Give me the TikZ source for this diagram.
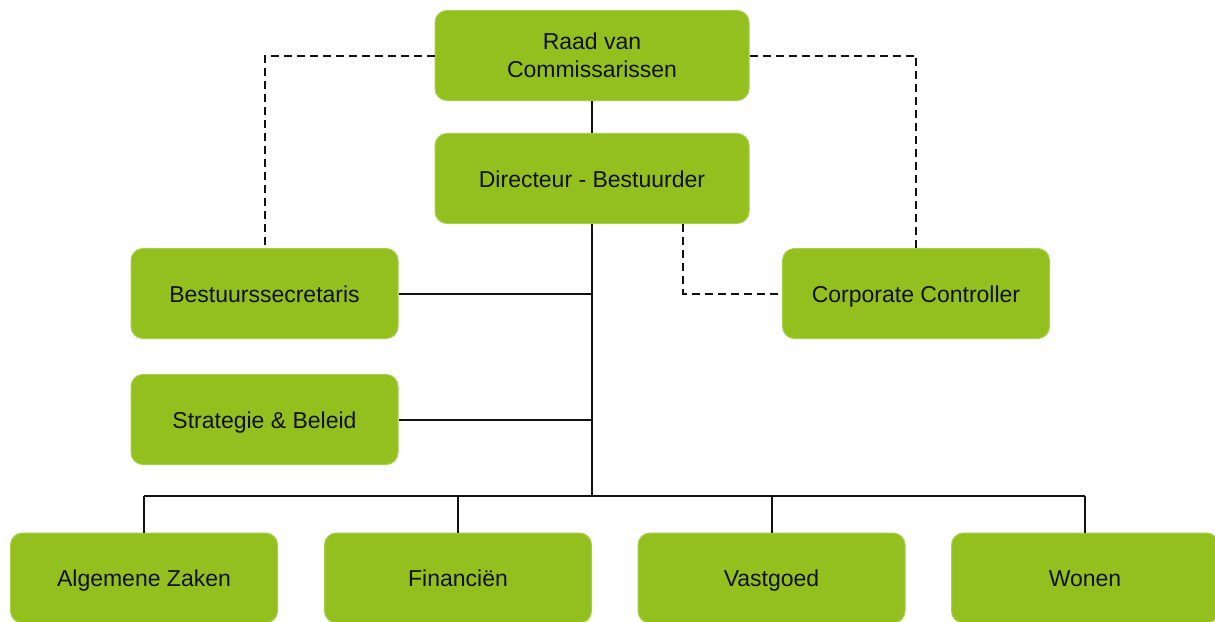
\documentclass[tikz,border=0pt]{standalone}
\usepackage{fontspec}
\setmainfont{Liberation Sans}
\usetikzlibrary{positioning}
\definecolor{boxFill}{HTML}{93C01F}
\definecolor{boxEdge}{HTML}{A6CF4A}
\definecolor{lineC}{HTML}{111111}
\definecolor{textC}{HTML}{111111}
\def\lwLine{2pt}
\def\lwBox{1pt}
\def\boxW{267}
\def\boxH{90}
\def\topW{314}
\def\busY{-496}

\begin{document}
\begin{tikzpicture}[x=1pt, y=1pt, line join=miter,
    unitbox/.style={rectangle, rounded corners=12pt, fill=boxFill, draw=boxEdge,
      line width=\lwBox, text=textC, align=center, inner sep=0pt,
      minimum width=\boxW pt, minimum height=\boxH pt,
      font=\fontsize{23}{28}\selectfont},
    unit/.style={unitbox, text height=17pt, text depth=0pt},
    topunit/.style={unitbox, minimum width=\topW pt},
    solidline/.style={lineC, line width=\lwLine},
    dashline/.style={lineC, line width=\lwLine, dash pattern=on 8pt off 5pt}]

  \useasboundingbox (0,0) rectangle (1215,-621);
  \clip (0,0) rectangle (1215,-621);

  % Top of the organisation
  \node[topunit] (raad) at (592,-55.5) {Raad van\\Commissarissen};
  \node[unit, minimum width=\topW pt] (dir) at (592,-178.5) {Directeur - Bestuurder};

  % Staff units
  \node[unit] (secr)  at (264.5,-293.5) {Bestuurssecretaris};
  \node[unit] (strat) at (264.5,-419.5) {Strategie \& Beleid};
  \node[unit] (contr) at (916,-293.5) {Corporate Controller};

  % Departments
  \node[unit] (alg)  at (144,-578)  {Algemene Zaken};
  \node[unit] (fin)  at (458,-578)  {Financiën};
  \node[unit] (vast) at (771.5,-578) {Vastgoed};
  \node[unit] (won)  at (1085,-578) {Wonen};

  \coordinate (bus) at (592,\busY);

  % Line relations
  \draw[solidline] (raad) -- (dir);
  \draw[solidline] (dir) -- (bus);
  \draw[solidline] (secr.east) -- (secr.east -| bus);
  \draw[solidline] (strat.east) -- (strat.east -| bus);
  \draw[solidline] (alg.north |- bus) -- (won.north |- bus);
  \foreach \dept in {alg, fin, vast, won}
    \draw[solidline] (\dept.north) -- (\dept.north |- bus);

  % Dashed relations
  \draw[dashline] (raad.west) -| (secr.north);
  \draw[dashline] (raad.east) -| (contr.north);
  \draw[dashline] ([xshift=91pt]dir.south) |- (contr.west);
\end{tikzpicture}
\end{document}
